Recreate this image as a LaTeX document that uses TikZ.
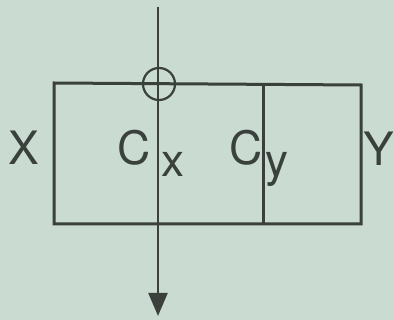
\documentclass[tikz,border=0pt]{standalone}
\usepackage{fontspec}
\setmainfont{TeX Gyre Heros}
\usetikzlibrary{arrows.meta}
\definecolor{bg}{HTML}{CADBD1}
\definecolor{ink}{HTML}{3A413D}
\tikzset{
  wire/.style={draw=ink, line width=3pt},
  thin/.style={draw=ink, line width=2.2pt},
  lbl/.style={text=ink, inner sep=0pt, font=\fontsize{46}{46}\selectfont},
}
\begin{document}
\begin{tikzpicture}[x=1pt,y=-1pt]
\fill[bg] (0,0) rectangle (394,320);
\useasboundingbox (0,0) rectangle (394,320);
\coordinate (tl) at (54,83);
\coordinate (tr) at (361,85);
\coordinate (br) at (361,224);
\coordinate (bl) at (54,224);
\coordinate (dt) at (263,85);
\coordinate (db) at (263,224);
\coordinate (top) at (158,7);
\coordinate (bot) at (158,316);
\draw[wire, line join=miter] (tl) -- (tr) -- (br) -- (bl) -- cycle;
\draw[wire] (dt) -- (db);
\draw[thin, -{Triangle[length=23pt,width=19pt]}] (top) -- (bot);
\node[thin, circle, minimum size=32pt, inner sep=0pt] (ring) at (159,84) {};
\node[lbl] (X) at (24,148) {X};
\node[lbl] (C1) at (134,148) {C};
\node[lbl, anchor=base] (x1) at (173,177) {x};
\node[lbl] (C2) at (246,148) {C};
\node[lbl, anchor=base] (y1) at (277,177) {y};
\node[lbl] (Y) at (379,149) {Y};
\end{tikzpicture}
\end{document}
